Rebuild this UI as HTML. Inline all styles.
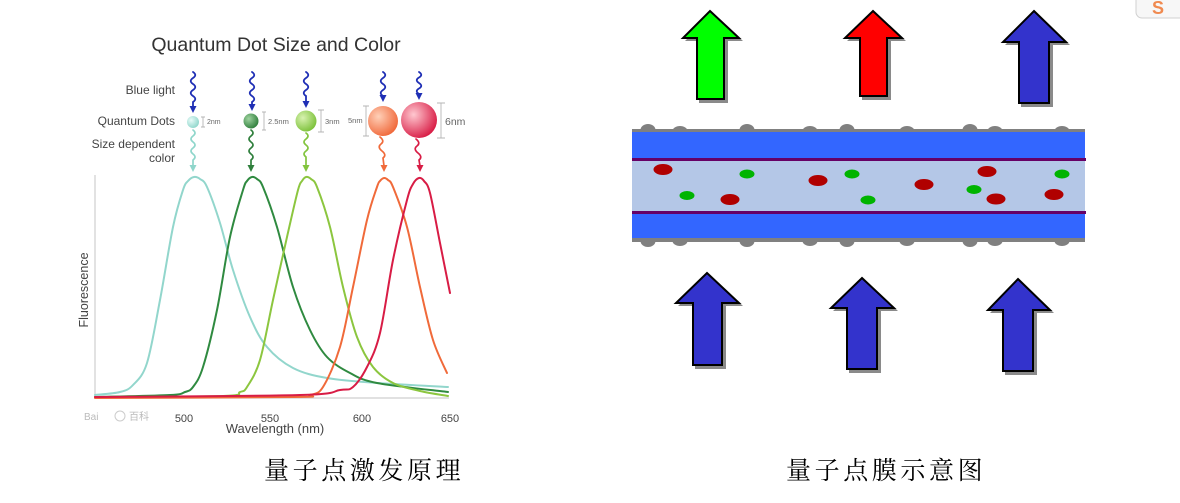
<!DOCTYPE html>
<html>
<head>
<meta charset="utf-8">
<style>
  html,body{margin:0;padding:0;background:#fff;}
  body{width:1180px;height:503px;position:relative;overflow:hidden;}
  svg{position:absolute;left:0;top:0;}
  .cap{position:absolute;top:459px;font-family:"Liberation Serif","Noto Serif CJK SC",serif;font-size:25px;line-height:25px;letter-spacing:3.6px;color:#000;white-space:nowrap;}
</style>
</head>
<body>
<svg width="1180" height="503" viewBox="0 0 1180 503" xmlns="http://www.w3.org/2000/svg">
  <defs>
    <radialGradient id="gCy" cx="35%" cy="35%" r="70%"><stop offset="0" stop-color="#e8fbf8"/><stop offset="1" stop-color="#8fd6cb"/></radialGradient>
    <radialGradient id="gDg" cx="35%" cy="35%" r="70%"><stop offset="0" stop-color="#9fd3a0"/><stop offset="1" stop-color="#2f7f3c"/></radialGradient>
    <radialGradient id="gLg" cx="35%" cy="35%" r="70%"><stop offset="0" stop-color="#d8f2b0"/><stop offset="1" stop-color="#7cc13a"/></radialGradient>
    <radialGradient id="gOr" cx="35%" cy="35%" r="70%"><stop offset="0" stop-color="#ffd0b8"/><stop offset="1" stop-color="#f0683a"/></radialGradient>
    <radialGradient id="gRd" cx="35%" cy="35%" r="70%"><stop offset="0" stop-color="#ffc8d0"/><stop offset="1" stop-color="#d81c45"/></radialGradient>
  </defs>

  <!-- ================= LEFT CHART ================= -->
  <text x="276" y="51" text-anchor="middle" font-family="Liberation Sans, sans-serif" font-size="19.5" fill="#333">Quantum Dot Size and Color</text>

  <g font-family="Liberation Sans, sans-serif" font-size="12" fill="#444" text-anchor="end">
    <text x="175" y="94">Blue light</text>
    <text x="175" y="125">Quantum Dots</text>
    <text x="175" y="148">Size dependent</text>
    <text x="175" y="162">color</text>
  </g>

  <!-- blue excitation squiggles -->
  <g fill="none" stroke="#1f2fb5" stroke-width="1.8" stroke-linecap="round">
    <path d="M193,72 q4.5,3 0,6 t0,6 t0,6 t0,6 t0,6 L193,107"/>
    <path d="M252,72 q4.5,3 0,6 t0,6 t0,6 t0,6 t0,6 L252,105"/>
    <path d="M306,72 q4.5,3 0,6 t0,6 t0,6 t0,6 L306,102"/>
    <path d="M383,72 q4.5,3 0,6 t0,6 t0,6 t0,6 L383,96"/>
    <path d="M419,72 q4.5,3 0,5.5 t0,5.5 t0,5.5 t0,5.5 L419,94"/>
  </g>
  <g fill="#1f2fb5">
    <polygon points="189.5,106 196.5,106 193,113"/>
    <polygon points="248.5,104 255.5,104 252,111"/>
    <polygon points="302.5,101 309.5,101 306,108"/>
    <polygon points="379.5,95 386.5,95 383,102"/>
    <polygon points="415.5,93 422.5,93 419,100"/>
  </g>

  <!-- dots -->
  <circle cx="193" cy="122" r="6" fill="url(#gCy)"/>
  <circle cx="251" cy="121" r="7.5" fill="url(#gDg)"/>
  <circle cx="306" cy="121" r="10.5" fill="url(#gLg)"/>
  <circle cx="383" cy="121" r="15" fill="url(#gOr)"/>
  <circle cx="419" cy="120" r="18" fill="url(#gRd)"/>

  <!-- size brackets -->
  <g stroke="#b5b5b5" stroke-width="0.9" fill="none">
    <path d="M203,117 V127 M201,117 H205 M201,127 H205"/>
    <path d="M264,112 V130 M262,112 H266 M262,130 H266"/>
    <path d="M321,110 V132 M318,110 H324 M318,132 H324"/>
    <path d="M366,106 V136 M363,106 H369 M363,136 H369"/>
    <path d="M441,103 V138 M437,103 H445 M437,138 H445"/>
  </g>
  <g font-family="Liberation Sans, sans-serif" fill="#666">
    <text x="207" y="124" font-size="7">2nm</text>
    <text x="268" y="124" font-size="7.5">2.5nm</text>
    <text x="325" y="124" font-size="7.5">3nm</text>
    <text x="348" y="123" font-size="7.5">5nm</text>
    <text x="445" y="125" font-size="10.5">6nm</text>
  </g>

  <!-- emission squiggles -->
  <g fill="none" stroke-width="1.7" stroke-linecap="round">
    <path d="M193,130 q4,3 0,6 t0,6 t0,6 t0,6 t0,6 L193,166" stroke="#8fd6cb"/>
    <path d="M251,130 q4,3 0,6 t0,6 t0,6 t0,6 t0,6 L251,166" stroke="#2f7f3c"/>
    <path d="M306,133 q4,3 0,6 t0,6 t0,6 t0,6 L306,166" stroke="#82c43e"/>
    <path d="M380,137 q5,4 1,7 t1,7 t1,7 L384,166" stroke="#f06a3a"/>
    <path d="M416,139 q5,4 1,7 t1,7 t1,7 L420,166" stroke="#d81c45"/>
  </g>
  <polygon points="189.5,165 196.5,165 193,172" fill="#8fd6cb"/>
  <polygon points="247.5,165 254.5,165 251,172" fill="#2f7f3c"/>
  <polygon points="302.5,165 309.5,165 306,172" fill="#82c43e"/>
  <polygon points="380.5,165 387.5,165 384,172" fill="#f06a3a"/>
  <polygon points="416.5,165 423.5,165 420,172" fill="#d81c45"/>

  <!-- axes -->
  <g stroke="#cfcfcf" stroke-width="1.2">
    <line x1="95" y1="175" x2="95" y2="398"/>
    <line x1="95" y1="398" x2="449" y2="398"/>
  </g>

  <!-- curves -->
  <g id="curves" fill="none" stroke-width="2" stroke-linejoin="round" stroke-linecap="round">
    <polyline stroke="#92d6cc" points="95,395 120,392 133,385 147,363 160,300 173,227 183,190 188,181 194,177 200,179 207,187 220,223 233,270 250,317 267,347 293,368 327,378 377,383 448,387"/>
    <polyline stroke="#2f8a40" points="95,397 170,395 185,392 193,387 203,367 217,310 230,237 243,190 247,181 252,177 257,179 263,187 277,227 293,287 310,330 327,357 350,373 377,383 448,392"/>
    <polyline stroke="#8cc63f" points="95,397 223,396 240,392 247,387 260,360 273,300 287,237 298,190 302,181 306,177 311,179 317,187 330,227 343,287 357,337 373,367 393,383 420,391 448,396"/>
    <polyline stroke="#f06a3a" points="95,398 293,397 310,395 323,387 340,347 353,287 367,220 377,187 380,181 384,178 388,180 393,187 407,227 420,287 433,340 447,373"/>
    <polyline stroke="#d81c45" points="95,397 300,395 340,390 353,387 367,367 380,333 393,260 407,200 413,184 419,178 424,181 430,193 440,243 450,293"/>
  </g>

  <!-- axis labels -->
  <g font-family="Liberation Sans, sans-serif" fill="#444" font-size="11" text-anchor="middle">
    <text x="184" y="422">500</text>
    <text x="270" y="422">550</text>
    <text x="362" y="422">600</text>
    <text x="450" y="422">650</text>
  </g>
  <text x="275" y="433" text-anchor="middle" font-family="Liberation Sans, sans-serif" font-size="13" fill="#444">Wavelength (nm)</text>
  <text transform="translate(88,290) rotate(-90)" text-anchor="middle" font-family="Liberation Sans, sans-serif" font-size="12.5" fill="#444">Fluorescence</text>

  <!-- watermark -->
  <g fill="#bbb" font-family="Liberation Sans, 'Noto Sans CJK SC', sans-serif" font-size="10">
    <text x="84" y="420">Bai</text>
    <circle cx="120" cy="416" r="5" fill="none" stroke="#ccc"/>
    <text x="129" y="420">百科</text>
  </g>

  <!-- ================= RIGHT: FILM ================= -->
  <g fill="#8a8a8a">
    <polygon transform="translate(3,3)" points="710,10 740,38 725,38 725,100 696,100 696,38 682,38"/>
    <polygon transform="translate(3,3)" points="873,10 903,38 888,38 888,97 859,97 859,38 844,38"/>
    <polygon transform="translate(3,3)" points="1034,10 1067,42 1050,42 1050,104 1018,104 1018,42 1002,42"/>
    <polygon transform="translate(3,3)" points="707,272 740,303 723,303 723,366 692,366 692,303 675,303"/>
    <polygon transform="translate(3,3)" points="862,277 895,308 878,308 878,370 846,370 846,308 830,308"/>
    <polygon transform="translate(3,3)" points="1018,278 1051,310 1034,310 1034,372 1002,372 1002,310 987,310"/>
  </g>
  <g stroke="#000" stroke-width="2" stroke-linejoin="miter">
    <polygon fill="#00ff00" points="710,11 739,38 724,38 724,99 697,99 697,38 683,38"/>
    <polygon fill="#ff0000" points="873,11 902,38 887,38 887,96 860,96 860,38 845,38"/>
    <polygon fill="#3333cc" points="1034,11 1066,42 1049,42 1049,103 1019,103 1019,42 1003,42"/>
    <polygon fill="#3333cc" points="707,273 739,303 722,303 722,365 693,365 693,303 676,303"/>
    <polygon fill="#3333cc" points="862,278 894,308 877,308 877,369 847,369 847,308 831,308"/>
    <polygon fill="#3333cc" points="1018,279 1050,310 1033,310 1033,371 1003,371 1003,310 988,310"/>
  </g>

  <!-- bumps -->
  <g fill="#808080">
    <ellipse cx="648" cy="130" rx="7.5" ry="6"/>
    <ellipse cx="680" cy="131" rx="7.5" ry="5"/>
    <ellipse cx="747" cy="130" rx="7.5" ry="6"/>
    <ellipse cx="810" cy="131" rx="7.5" ry="5"/>
    <ellipse cx="847" cy="130" rx="7.5" ry="6"/>
    <ellipse cx="907" cy="131" rx="7.5" ry="5"/>
    <ellipse cx="970" cy="130" rx="7.5" ry="6"/>
    <ellipse cx="995" cy="131" rx="7.5" ry="5"/>
    <ellipse cx="1062" cy="131" rx="7.5" ry="5"/>

    <ellipse cx="648" cy="241" rx="7.5" ry="6"/>
    <ellipse cx="680" cy="241" rx="7.5" ry="5"/>
    <ellipse cx="747" cy="241" rx="7.5" ry="6"/>
    <ellipse cx="810" cy="241" rx="7.5" ry="5"/>
    <ellipse cx="847" cy="241" rx="7.5" ry="6"/>
    <ellipse cx="907" cy="241" rx="7.5" ry="5"/>
    <ellipse cx="970" cy="241" rx="7.5" ry="6"/>
    <ellipse cx="995" cy="241" rx="7.5" ry="5"/>
    <ellipse cx="1062" cy="241" rx="7.5" ry="5"/>
  </g>

  <!-- layers -->
  <rect x="632" y="129" width="453" height="4" fill="#808080"/>
  <rect x="632" y="132" width="453" height="26" fill="#3366ff"/>
  <rect x="632" y="158" width="454" height="3" fill="#660066"/>
  <rect x="632" y="161" width="453" height="50" fill="#b4c7e7"/>
  <rect x="632" y="211" width="454" height="3" fill="#660066"/>
  <rect x="632" y="214" width="453" height="24" fill="#3366ff"/>
  <rect x="632" y="238" width="453" height="4" fill="#808080"/>

  <g fill="#b00000">
    <ellipse cx="663" cy="169.5" rx="9.5" ry="5.5"/>
    <ellipse cx="730" cy="199.5" rx="9.5" ry="5.5"/>
    <ellipse cx="818" cy="180.5" rx="9.5" ry="5.5"/>
    <ellipse cx="924" cy="184.5" rx="9.5" ry="5.5"/>
    <ellipse cx="987" cy="171.5" rx="9.5" ry="5.5"/>
    <ellipse cx="996" cy="199" rx="9.5" ry="5.5"/>
    <ellipse cx="1054" cy="194.5" rx="9.5" ry="5.5"/>
  </g>
  <g fill="#00b400">
    <ellipse cx="747" cy="174" rx="7.5" ry="4.5"/>
    <ellipse cx="687" cy="195.5" rx="7.5" ry="4.5"/>
    <ellipse cx="852" cy="174" rx="7.5" ry="4.5"/>
    <ellipse cx="868" cy="200" rx="7.5" ry="4.5"/>
    <ellipse cx="974" cy="189.5" rx="7.5" ry="4.5"/>
    <ellipse cx="1062" cy="174" rx="7.5" ry="4.5"/>
  </g>

  <!-- corner logo -->
  <rect x="1136" y="-8" width="52" height="26" rx="6" fill="#f7f7f7" stroke="#d0d0d0"/>
  <text x="1158" y="14" text-anchor="middle" font-family="Liberation Sans, sans-serif" font-weight="bold" font-size="18" fill="#f08a50">S</text>
</svg>

<div class="cap" style="left:264px;">量子点激发原理</div>
<div class="cap" style="left:786px;">量子点膜示意图</div>

<script>
(function(){
  try{
    var ns="http://www.w3.org/2000/svg";
    var pls=document.querySelectorAll('#curves polyline');
    for(var i=0;i<pls.length;i++){
      var pl=pls[i];
      var nums=pl.getAttribute('points').trim().split(/[\s,]+/).map(Number);
      var p=[];
      for(var j=0;j<nums.length;j+=2)p.push([nums[j],nums[j+1]]);
      var d='M'+p[0][0]+','+p[0][1];
      for(var k=0;k<p.length-1;k++){
        var p0=p[k-1]||p[k],p1=p[k],p2=p[k+1],p3=p[k+2]||p2;
        var c1x=p1[0]+(p2[0]-p0[0])/6,c1y=p1[1]+(p2[1]-p0[1])/6;
        var c2x=p2[0]-(p3[0]-p1[0])/6,c2y=p2[1]-(p3[1]-p1[1])/6;
        d+=' C'+c1x.toFixed(2)+','+c1y.toFixed(2)+' '+c2x.toFixed(2)+','+c2y.toFixed(2)+' '+p2[0]+','+p2[1];
      }
      var path=document.createElementNS(ns,'path');
      path.setAttribute('d',d);
      path.setAttribute('stroke',pl.getAttribute('stroke'));
      pl.parentNode.replaceChild(path,pl);
    }
  }catch(e){}
})();
</script>
</body>
</html>
